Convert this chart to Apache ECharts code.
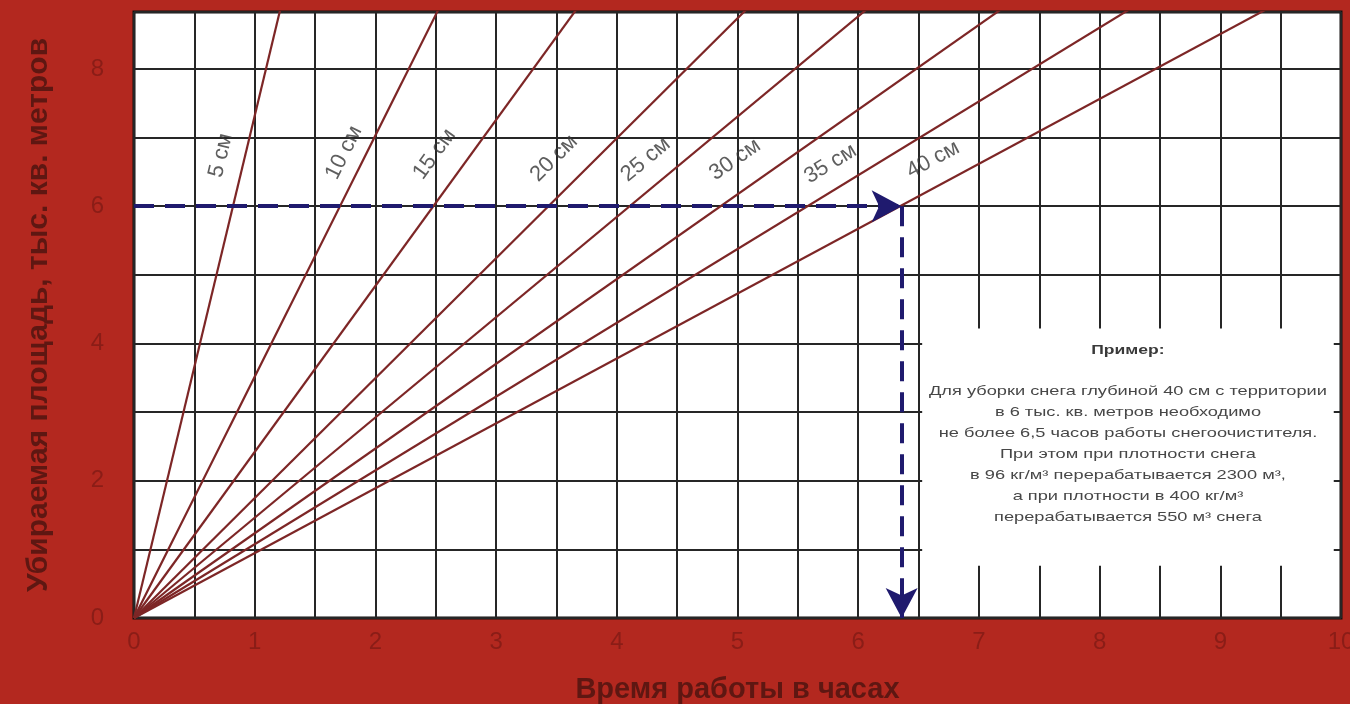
<!DOCTYPE html>
<html>
<head>
<meta charset="utf-8">
<script src="https://cdn.jsdelivr.net/npm/echarts@6/dist/echarts.min.js"></script>
<style>
html,body{margin:0;padding:0;background:#b3281f;}
#chart{width:1350px;height:704px;}
</style>
</head>
<body>
<div id="chart"></div>
<script>
// ---- data ----
const depthLabels = ['5 см', '10 см', '15 см', '20 см', '25 см', '30 см', '35 см', '40 см'];
// hours of work needed to clear 9 thousand m² for each snow depth
const lineEndArea = 9;
const hoursForEndArea = [1.23, 2.56, 3.72, 5.15, 6.16, 7.29, 8.37, 9.52];
// example: 6 thousand m² at 40 cm
const exampleArea = 6;
const exampleHours = 6.36;
const xTicks = [0, 1, 2, 3, 4, 5, 6, 7, 8, 9, 10];
const yTicks = [0, 2, 4, 6, 8];
const exampleTitle = 'Пример:';
const exampleLines = [
  'Для уборки снега глубиной 40 см с территории',
  'в 6 тыс. кв. метров необходимо',
  'не более 6,5 часов работы снегоочистителя.',
  'При этом при плотности снега',
  'в 96 кг/м³ перерабатывается 2300 м³,',
  'а при плотности в 400 кг/м³',
  'перерабатывается 550 м³ снега'
];

// ---- layout ----
const G = {left: 134, right: 9, top: 12, bottom: 86};
const X_MAX = 10, Y_MAX = 8.83;
const pxPerX = (1350 - G.left - G.right) / X_MAX;
const pxPerY = (704 - G.top - G.bottom) / Y_MAX;
// label anchors (data coords) for the depth labels
const labelPos = [[0.72,6.74],[1.74,6.78],[2.49,6.76],[3.48,6.70],[4.24,6.68],[4.98,6.68],[5.77,6.62],[6.62,6.68]];
const boxArea = [[6.53, 4.22], [9.94, 0.76]];

const lineColor = '#7d2626';
const series = depthLabels.map((name, i) => ({
  name: name,
  type: 'line',
  data: [[0, 0], [hoursForEndArea[i], lineEndArea]],
  symbol: 'none',
  clip: true,
  lineStyle: {color: lineColor, width: 2.2},
  z: 3
}));

const labelData = depthLabels.map((name, i) => {
  const slope = lineEndArea / hoursForEndArea[i];
  const ang = Math.atan(slope * pxPerY / pxPerX) * 180 / Math.PI;
  return {
    value: labelPos[i],
    name: name,
    label: {show: true, formatter: name, rotate: ang, position: 'inside'}
  };
});
series.push({
  type: 'scatter',
  data: labelData,
  symbolSize: 2,
  itemStyle: {color: 'rgba(0,0,0,0)'},
  label: {show: true, color: '#363636', fontSize: 22, fontFamily: 'Liberation Sans'},
  z: 5,
  silent: true
});

// example arrows + white info box
series.push({
  type: 'line',
  data: [],
  markLine: {
    silent: true,
    symbol: ['none', 'arrow'],
    symbolSize: [24, 30],
    label: {show: false},
    lineStyle: {color: '#1f1a6e', width: 4, type: [20, 11], opacity: 1},
    data: [
      [{coord: [0, exampleArea]}, {coord: [exampleHours, exampleArea]}],
      [{coord: [exampleHours, exampleArea]}, {coord: [exampleHours, 0]}]
    ]
  },
  markArea: {
    silent: true,
    itemStyle: {color: '#ffffff', opacity: 1},
    data: [[{coord: boxArea[0]}, {coord: boxArea[1]}]]
  },
  z: 4
});

const chart = echarts.init(document.getElementById('chart'));
const boxCx = G.left + (boxArea[0][0] + boxArea[1][0]) / 2 * pxPerX;
const textChildren = [{
  type: 'text', x: 0, y: 350, z: 100,
  style: {text: exampleTitle, fill: '#3a3a3a', fontSize: 13, fontWeight: 'bold', fontFamily: 'Liberation Sans', align: 'center', verticalAlign: 'middle'}
}];
exampleLines.forEach((t, i) => {
  textChildren.push({
    type: 'text', x: 0, y: 391 + i * 21, z: 100,
    style: {text: t, fill: '#474747', fontSize: 13.5, fontFamily: 'Liberation Sans', align: 'center', verticalAlign: 'middle'}
  });
});

chart.setOption({
  backgroundColor: '#b3281f',
  animation: false,
  grid: {left: G.left, right: G.right, top: G.top, bottom: G.bottom, show: true,
         outerBoundsMode: 'none', containLabel: false,
         backgroundColor: '#ffffff', borderColor: '#151010', borderWidth: 3},
  xAxis: {
    type: 'value', min: 0, max: X_MAX, interval: 0.5,
    name: 'Время работы в часах', nameLocation: 'middle', nameGap: 57,
    nameTextStyle: {color: '#5e1712', fontSize: 29, fontWeight: 'bold', fontFamily: 'Liberation Sans'},
    axisLine: {show: false}, axisTick: {show: false},
    axisLabel: {
      margin: 12, color: '#8a1d17', fontSize: 24, fontFamily: 'Liberation Sans',
      formatter: v => xTicks.indexOf(v) >= 0 ? String(v) : ''
    },
    splitLine: {show: true, lineStyle: {color: '#262626', width: 2}}
  },
  yAxis: {
    type: 'value', min: 0, max: Y_MAX, interval: 1,
    name: 'Убираемая площадь, тыс. кв. метров', nameLocation: 'middle', nameGap: 80,
    nameTextStyle: {color: '#5e1712', fontSize: 30, fontWeight: 'bold', fontFamily: 'Liberation Sans'},
    axisLine: {show: false}, axisTick: {show: false},
    axisLabel: {
      margin: 30, color: '#8a1d17', fontSize: 24, fontFamily: 'Liberation Sans', showMaxLabel: false,
      formatter: v => yTicks.indexOf(v) >= 0 ? String(v) : ''
    },
    splitLine: {show: true, lineStyle: {color: '#262626', width: 2}}
  },
  series: series,
  graphic: {elements: [{
    type: 'group', x: boxCx, y: 0, scaleX: 1.35, z: 100,
    children: textChildren
  }]}
});
</script>
</body>
</html>
